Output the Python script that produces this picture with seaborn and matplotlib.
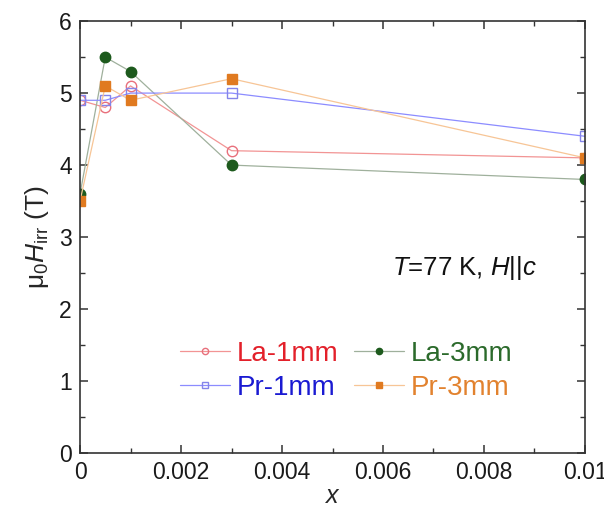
import numpy as np
import pandas as pd
import matplotlib
matplotlib.use("Agg")
import matplotlib.pyplot as plt
import seaborn as sns
from matplotlib.ticker import MultipleLocator, FuncFormatter

# data
x_vals = [0.0, 0.0005, 0.001, 0.003, 0.01]
la_1mm = [4.9, 4.8, 5.1, 4.2, 4.1]
la_3mm = [3.6, 5.5, 5.3, 4.0, 3.8]
pr_1mm = [4.9, 4.9, 5.0, 5.0, 4.4]
pr_3mm = [3.5, 5.1, 4.9, 5.2, 4.1]
labels = ["La-1mm", "La-3mm", "Pr-1mm", "Pr-3mm"]

sns.set_theme(style="ticks")
plt.rcParams['font.family'] = ['Liberation Sans', 'DejaVu Sans']
plt.rcParams['mathtext.fontset'] = 'custom'
plt.rcParams['mathtext.rm'] = 'Liberation Sans'
plt.rcParams['mathtext.it'] = 'Liberation Sans:italic'

fig = plt.figure(figsize=(6.04, 5.15), dpi=100)
ax = fig.add_axes([0.1325, 0.1204, 0.836, 0.8386])

# (values, line colour, marker, face, edge, text colour)
styles = [
    (la_1mm, "#f29494", "o", "none", "#e8707c", "#e3202a"),
    (la_3mm, "#9fb09c", "o", "#1d5a1d", "#1d5a1d", "#2b6a2b"),
    (pr_1mm, "#8c8cff", "s", "none", "#8484ea", "#1a1ad2"),
    (pr_3mm, "#f7c596", "s", "#e07a20", "#e07a20", "#e2822e"),
]

handles = {}
for lab, (vals, lc, mk, fc, ec, tc) in zip(labels, styles):
    df = pd.DataFrame({"x": x_vals, "y": vals})
    sns.lineplot(data=df, x="x", y="y", ax=ax, color=lc, lw=0.9,
                 marker=mk, markersize=7.5, markerfacecolor=fc,
                 markeredgecolor=ec, markeredgewidth=1.0, label=lab)
    handles[lab] = ax.lines[-1]

ax.set_xlim(0, 0.01)
ax.set_ylim(0, 6)
ax.xaxis.set_major_locator(MultipleLocator(0.002))
ax.xaxis.set_minor_locator(MultipleLocator(0.001))
ax.yaxis.set_major_locator(MultipleLocator(1))
ax.yaxis.set_minor_locator(MultipleLocator(0.5))

def xfmt(v, pos):
    if abs(v) < 1e-12:
        return "0"
    return ("%.3f" % v).rstrip("0")
ax.xaxis.set_major_formatter(FuncFormatter(xfmt))

ax.tick_params(which="both", direction="in", top=True, right=True,
               labelsize=16.5, color="#333333", labelcolor="#1a1a1a", pad=6)
ax.tick_params(which="major", length=6, width=1.1)
ax.tick_params(which="minor", length=3.5, width=1.0)
for s in ax.spines.values():
    s.set_color("#333333")
    s.set_linewidth(1.2)

ax.set_xlabel(r"$x$", fontsize=18, labelpad=0)
ax.set_ylabel(r"μ$_0$$H_{\rm irr}$ (T)", fontsize=19, labelpad=6)

ax.text(0.618, 0.428, r"$T$=77 K, $H$||$c$", transform=ax.transAxes,
        fontsize=18.5, va="center", ha="left", color="#111111")

# column-major fill: La-1mm / Pr-1mm in col 1, La-3mm / Pr-3mm in col 2
order = ["La-1mm", "Pr-1mm", "La-3mm", "Pr-3mm"]
leg = ax.legend([handles[k] for k in order], order, ncol=2, loc="center",
                bbox_to_anchor=(0.527, 0.19), frameon=False, fontsize=20,
                handlelength=1.8, handletextpad=0.25, columnspacing=0.55,
                labelspacing=0.3)
for h in leg.legend_handles:
    h.set_markersize(4.5)
text_col = {lab: st[5] for lab, st in zip(labels, styles)}
for t in leg.get_texts():
    t.set_color(text_col[t.get_text()])

fig.savefig("out.png", dpi=100)
